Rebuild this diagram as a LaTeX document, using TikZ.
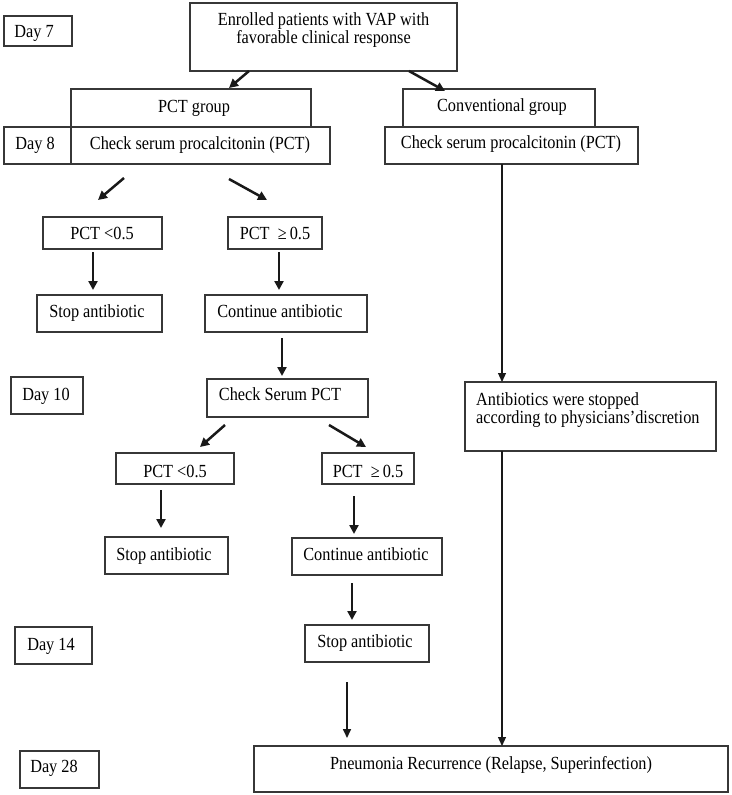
\documentclass[tikz,border=0pt]{standalone}
\usepackage{fontspec}
\setmainfont{Liberation Serif}[FakeStretch=0.88]
\usetikzlibrary{arrows.meta}
\definecolor{edge}{RGB}{55,55,55}
\tikzset{
  box/.style={draw=edge, line width=1.2pt, rectangle, inner sep=0pt, outer sep=0pt},
  txt/.style={inner sep=0pt, anchor=base, font=\fontsize{18.5}{20}\selectfont, text=black},
  arr/.style={draw=black!90, line width=2.5pt, -{Triangle[length=9pt,width=9pt]}},
  midarr/.style={draw=black!90, line width=1.6pt, -{Triangle[length=9pt,width=8pt]}},
  thinarr/.style={draw=black!90, line width=1.2pt, -{Triangle[length=9pt,width=8pt]}}
}
\newcommand\mybox[8]{%
  \node[box, minimum width={#4-#2}, minimum height={#5-#3}] (#1) at ({(#2+#4)/2},{(#3+#5)/2}) {};
  \node[txt] (#1t) at (#7,#8) {#6};}
\newcommand\myarr[6]{%
  \coordinate (#1s) at (#2,#3); \coordinate (#1e) at (#4,#5);
  \draw[#6] (#1s) -- (#1e);}
\begin{document}
\begin{tikzpicture}[x=1pt,y=-1pt]
\useasboundingbox (0,0) rectangle (731,795);
% boxes
\mybox{day7}{4}{16}{72}{46}{Day 7}{34}{37}
\node[box, minimum width=267, minimum height=68] (top) at (323.5,37) {};
\node[txt] (topa) at (323.5,25) {Enrolled patients with VAP with};
\node[txt] (topb) at (323.5,43.5) {favorable clinical response};
\mybox{pctg}{71}{89}{311}{127}{PCT group}{194}{112}
\mybox{day8}{4}{127}{71}{164}{Day 8}{35}{149}
\mybox{chka}{71}{127}{330}{164}{Check serum procalcitonin (PCT)}{200}{149}
\mybox{convg}{403}{89}{595}{127}{Conventional group}{502}{111.5}
\mybox{chkb}{385}{127}{638}{164}{Check serum procalcitonin (PCT)}{511}{148}
\mybox{pa}{43}{217}{162}{249}{PCT \textless0.5}{102}{239}
\mybox{pb}{228}{217}{322}{249}{PCT\ \ ≥\,0.5}{275}{239}
\mybox{sa}{37}{295}{162}{332}{Stop antibiotic}{97}{317}
\mybox{ca}{205}{295}{367}{332}{Continue antibiotic}{280}{317}
\mybox{day10}{11}{377}{83}{414}{Day 10}{46}{400}
\mybox{csp}{207}{379}{368}{417}{Check Serum PCT}{280}{400}
\node[box, minimum width=251, minimum height=69] (ab) at (590.5,416.5) {};
\node[txt, anchor=base west] (aba) at (476,405) {Antibiotics were stopped};
\node[txt, anchor=base west] (abb) at (476,423) {according to physicians’discretion};
\mybox{pc}{116}{453}{234}{484}{PCT \textless0.5}{175}{477}
\mybox{pd}{322}{453}{414}{484}{PCT\ \ ≥\,0.5}{368}{477}
\mybox{sb}{105}{537}{228}{574}{Stop antibiotic}{164}{560}
\mybox{cb}{292}{538}{442}{575}{Continue antibiotic}{366}{560}
\mybox{day14}{15}{627}{92}{664}{Day 14}{51}{650}
\mybox{sc}{305}{625}{429}{662}{Stop antibiotic}{365}{647}
\mybox{day28}{20}{751}{99}{788}{Day 28}{54}{772}
\mybox{pn}{254}{746}{728}{792}{Pneumonia Recurrence (Relapse, Superinfection)}{491}{769}
% arrows
\myarr{a1}{249}{71}{229}{88}{arr}
\myarr{a2}{409}{71}{445}{91}{arr}
\myarr{a3}{124}{178}{98}{200}{arr}
\myarr{a4}{229}{179}{267}{200}{arr}
\myarr{a5}{93}{252}{93}{290}{arr}
\myarr{a6}{279}{252}{279}{290}{arr}
\myarr{a7}{282}{338}{282}{376}{arr}
\myarr{a8}{225}{425}{200}{447}{arr}
\myarr{a9}{329}{425}{366}{447}{arr}
\myarr{a10}{161}{490}{161}{528}{arr}
\myarr{a11}{354}{496}{354}{534}{arr}
\myarr{a12}{352}{583}{352}{620}{arr}
\myarr{a13}{347}{682}{347}{738}{midarr}
\coordinate (lx) at (502,0);
\draw[thinarr] (chkb.south -| lx) -- (ab.north -| lx);
\draw[thinarr] (ab.south -| lx) -- (pn.north -| lx);
\end{tikzpicture}
\end{document}
